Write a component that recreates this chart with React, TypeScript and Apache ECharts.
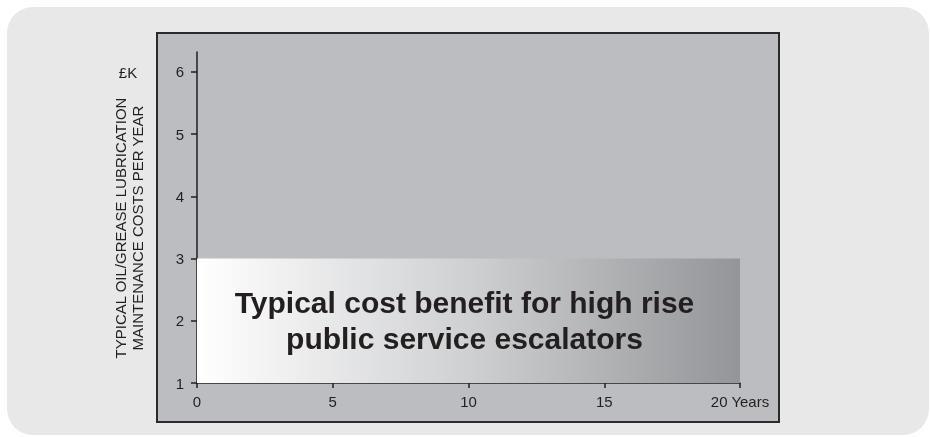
import React, { useEffect, useRef } from "react";
import * as echarts from "echarts";

const xTicks = [0, 5, 10, 15, 20];
const yTicks = [1, 2, 3, 4, 5, 6];
// [startYear, endYear, cost £K]
const benefitBand = [[0, 20, 3]];
const bandLabel = "Typical cost benefit for high rise\npublic service escalators";
const yTitle = "TYPICAL OIL/GREASE LUBRICATION\nMAINTENANCE COSTS PER YEAR";
const yUnit = "£K";
const xUnit = "Years";

export default function App() {
  const ref = useRef<HTMLDivElement>(null);
  useEffect(() => {
    document.body.style.margin = "0";
    const chart = echarts.init(ref.current!, null, { renderer: "svg" });
    const font = "'Liberation Sans', Arial, Helvetica, sans-serif";
    chart.setOption({
      animation: false,
      textStyle: { fontFamily: font },
      grid: { left: 197, right: 190, top: 52, bottom: 54 },
      graphic: [
        {
          type: "rect",
          z: -20,
          shape: { x: 7, y: 7, width: 922, height: 428, r: 26 },
          style: { fill: "#e8e8e8" },
        },
        {
          type: "rect",
          z: -10,
          shape: { x: 157, y: 33, width: 622, height: 389 },
          style: { fill: "#bcbdc0", stroke: "#2a2a2a", lineWidth: 2 },
        },
        {
          type: "text",
          x: 129,
          y: 228,
          rotation: Math.PI / 2,
          style: {
            text: yTitle,
            fill: "#231f20",
            font: `15px ${font}`,
            align: "center",
            verticalAlign: "middle",
            lineHeight: 17,
          },
        },
        {
          type: "text",
          x: 128,
          y: 72,
          style: {
            text: yUnit,
            fill: "#231f20",
            font: `15px ${font}`,
            align: "center",
            verticalAlign: "middle",
          },
        },
      ],
      xAxis: {
        type: "value",
        min: 0,
        max: 20,
        interval: 5,
        splitLine: { show: false },
        axisLine: { lineStyle: { color: "#231f20", width: 1.5 } },
        axisTick: { show: true, length: 5, lineStyle: { color: "#231f20", width: 1.5 } },
        axisLabel: {
          color: "#231f20",
          fontSize: 15,
          margin: 11,
          customValues: xTicks,
          formatter: (v: number) => (v === 20 ? `${v} ${xUnit}` : `${v}`),
        },
      },
      yAxis: {
        type: "value",
        min: 1,
        max: 6.32,
        interval: 1,
        splitLine: { show: false },
        axisLine: { show: true, lineStyle: { color: "#231f20", width: 1.5 } },
        axisTick: { show: true, length: 6, customValues: yTicks, lineStyle: { color: "#231f20", width: 1.5 } },
        axisLabel: { color: "#231f20", fontSize: 15, margin: 13, customValues: yTicks },
      },
      series: [
        {
          type: "custom",
          z: 1,
          data: benefitBand,
          encode: { x: [0, 1], y: 2 },
          renderItem: (params: any, api: any) => {
            const p0 = api.coord([api.value(0), api.value(2)]);
            const p1 = api.coord([api.value(1), 1]);
            const w = p1[0] - p0[0];
            const h = p1[1] - p0[1];
            return {
              type: "group",
              children: [
                {
                  type: "rect",
                  shape: { x: p0[0], y: p0[1], width: w, height: h },
                  style: {
                    fill: new echarts.graphic.LinearGradient(0, 0, 1, 0, [
                      { offset: 0, color: "#ffffff" },
                      { offset: 0.5, color: "#cfd0d2" },
                      { offset: 1, color: "#939598" },
                    ]),
                  },
                },
                {
                  type: "text",
                  x: p0[0] + w / 2 - 4,
                  y: p0[1] + h / 2,
                  style: {
                    text: bandLabel,
                    fill: "#231f20",
                    font: `bold 30px ${font}`,
                    align: "center",
                    verticalAlign: "middle",
                    lineHeight: 36,
                  },
                },
              ],
            };
          },
        },
      ],
    });
    return () => chart.dispose();
  }, []);
  return <div ref={ref} style={{ width: 930, height: 437, position: "fixed", left: 0, top: 0 }} />;
}
